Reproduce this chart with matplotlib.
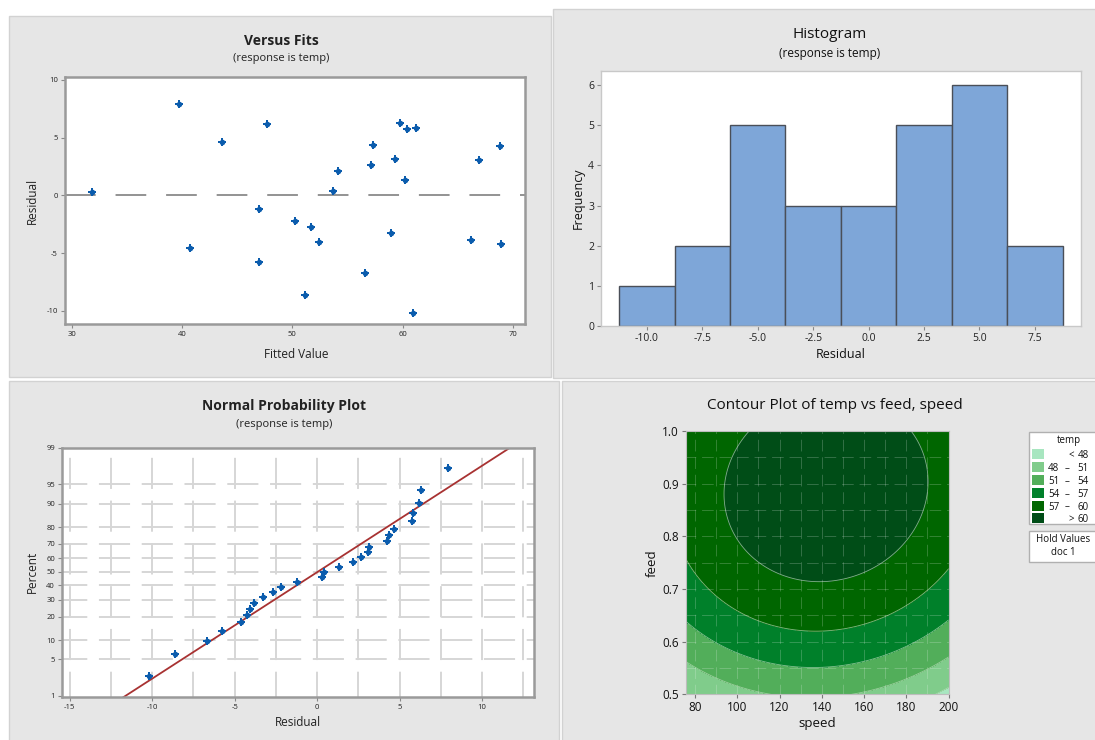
import numpy as np
import matplotlib
matplotlib.use("Agg")
import matplotlib.pyplot as plt
from matplotlib.patches import Rectangle
from statistics import NormalDist

plt.rcParams['font.family'] = ['Open Sans', 'DejaVu Sans']
plt.rcParams['axes.unicode_minus'] = False

# ---------------- data ----------------
fitted = [31.8, 39.7, 40.7, 43.6, 47.7, 47.0, 47.0, 50.2, 51.1, 51.7, 52.4, 53.7, 54.1, 56.6,
          57.1, 57.3, 58.9, 59.3, 59.8, 60.2, 60.4, 61.2, 60.9, 66.2, 66.9, 68.8, 68.9]
residuals = [0.3, 7.9, -4.6, 4.65, 6.15, -1.2, -5.8, -2.2, -8.65, -2.7, -4.05, 0.4, 2.15, -6.7,
             2.65, 4.35, -3.3, 3.15, 6.3, 1.3, 5.75, 5.8, -10.2, -3.85, 3.05, 4.25, -4.25]
hist_bin_start, hist_bin_width, hist_nbins = -11.25, 2.5, 8
hist_ticks = [-10.0, -7.5, -5.0, -2.5, 0.0, 2.5, 5.0, 7.5]
fit_xticks = [30, 40, 50, 60, 70]
fit_yticks = [-10, -5, 0, 5, 10]
npp_xticks = [-15, -10, -5, 0, 5, 10]
npp_percents = [1, 5, 10, 20, 30, 40, 50, 60, 70, 80, 90, 95, 99]
# fitted response-surface model for temp (speed, feed), doc held at 1
model_tmax = 62.25
model_speed0 = 142.0
model_feed0 = 0.892
model_a_speed = 0.00097
model_b_feed = 70.9
model_shift = 18.0
contour_levels = [48, 51, 54, 57, 60]
contour_colors = ['#a8e6c0', '#80cc8b', '#52ae5a', '#00802a', '#006600', '#004d17']
legend_labels = [('', '<', '48'), ('48', '–', '51'), ('51', '–', '54'),
                 ('54', '–', '57'), ('57', '–', '60'), ('', '>', '60')]

W, H = 1095, 740
fig = plt.figure(figsize=(W / 100, H / 100), dpi=100)
fig.patch.set_facecolor('white')


def add_ax(x0, y0, x1, y1):
    return fig.add_axes([x0 / W, 1 - y1 / H, (x1 - x0) / W, (y1 - y0) / H])


def panel(x0, y0, x1, y1):
    fig.patches.append(Rectangle((x0 / W, 1 - y1 / H), (x1 - x0) / W, (y1 - y0) / H,
                                 transform=fig.transFigure, facecolor='#e6e6e6',
                                 edgecolor='#d2d2d2', lw=1, zorder=-5))


def ftext(x, y, s, **kw):
    fig.text(x / W, 1 - y / H, s, **kw)


def blobs(ax, x, y):
    ax.scatter(x, y, marker='o', s=16, color=blue, zorder=3, linewidths=0)
    ax.scatter(x, y, marker='P', s=34, color=blue, zorder=3, linewidths=0)


panel(9, 16, 551, 377)
panel(553, 9, 1096, 378)
panel(9, 381, 559, 741)
panel(562, 381, 1096, 741)

dark = '#222222'
blue = '#0b5cad'

# ---------------- Versus Fits ----------------
ax1 = add_ax(65, 77, 525, 324)
ax1.axhline(0, color='#8a8a8a', lw=1.3, ls=(0, (17, 11)), zorder=1)
blobs(ax1, fitted, residuals)
ax1.set_xlim(29.37, 71.1)
ax1.set_ylim(-11.15, 10.26)
ax1.set_xticks(fit_xticks)
ax1.set_yticks(fit_yticks)
for sp in ax1.spines.values():
    sp.set_color('#9a9a9a')
    sp.set_linewidth(1.8)
ax1.tick_params(labelsize=5.5, colors='#888888', labelcolor=dark, length=3, width=0.8, pad=2)
ftext(281, 41, 'Versus Fits', ha='center', va='center', fontsize=10, fontweight='bold', color=dark)
ftext(281, 58, '(response is temp)', ha='center', va='center', fontsize=8, color=dark)
ftext(296, 354, 'Fitted Value', ha='center', va='center', fontsize=8.5, color=dark)
ftext(32, 201, 'Residual', ha='center', va='center', fontsize=8.5, color=dark, rotation=90)

# ---------------- Histogram ----------------
ax2 = add_ax(601, 71, 1081, 326)
edges = hist_bin_start + hist_bin_width * np.arange(hist_nbins + 1)
ax2.hist(residuals, bins=edges, color='#7ea6d8', edgecolor='#4a4f58', linewidth=1, zorder=2)
ax2.set_xlim(-12.07, 9.58)
ax2.set_ylim(0, 6.35)
ax2.set_xticks(hist_ticks)
ax2.set_xticklabels([f'{t:.1f}' for t in hist_ticks])
ax2.set_yticks(range(0, 7))
for sp in ax2.spines.values():
    sp.set_color('#c8c8c8')
    sp.set_linewidth(1)
ax2.tick_params(labelsize=7.5, colors='#888888', labelcolor=dark, length=3, width=0.8, pad=2)
ftext(830, 34, 'Histogram', ha='center', va='center', fontsize=11, color='#111111')
ftext(830, 53, '(response is temp)', ha='center', va='center', fontsize=8.5, color='#111111')
ftext(841, 354, 'Residual', ha='center', va='center', fontsize=9, color='#111111')
ftext(578, 198, 'Frequency', ha='center', va='center', fontsize=9, color='#111111', rotation=90)

# ---------------- Normal Probability Plot ----------------
nd = NormalDist()
ax3 = add_ax(62, 448, 534, 697)
zt = [nd.inv_cdf(p / 100) for p in npp_percents]
ax3.set_xlim(-15.47, 13.14)
ax3.set_ylim(-2.35, nd.inv_cdf(0.99))
for gx in np.arange(-15, 13, 2.5):
    ax3.axvline(gx, color='#d6d6d6', lw=1.4, ls=(3, (16, 6)), zorder=0)
for gz in zt[1:-1]:
    ax3.axhline(gz, color='#d6d6d6', lw=1.4, ls=(3, (16, 6)), zorder=0)
r_sorted = np.sort(residuals)
n = len(r_sorted)
zpts = [nd.inv_cdf((i + 1 - 0.3) / (n + 0.4)) for i in range(n)]
mu, sd = np.mean(residuals), np.std(residuals, ddof=1)
zl = np.array([-2.6, 2.6])
ax3.plot(mu + sd * zl, zl, color='#a83232', lw=1.3, zorder=2)
blobs(ax3, r_sorted, zpts)
ax3.set_xticks(npp_xticks)
ax3.set_yticks(zt)
ax3.set_yticklabels([str(p) for p in npp_percents])
for sp in ax3.spines.values():
    sp.set_color('#9a9a9a')
    sp.set_linewidth(1.8)
ax3.tick_params(labelsize=5.5, colors='#888888', labelcolor=dark, length=3, width=0.8, pad=2)
ftext(284, 406, 'Normal Probability Plot', ha='center', va='center', fontsize=10, fontweight='bold', color=dark)
ftext(284, 425, '(response is temp)', ha='center', va='center', fontsize=8, color=dark)
ftext(298, 722, 'Residual', ha='center', va='center', fontsize=8.5, color=dark)
ftext(32, 572, 'Percent', ha='center', va='center', fontsize=8.5, color=dark, rotation=90)

# ---------------- Contour Plot ----------------
ax4 = add_ax(685.5, 431, 948.6, 694.3)
sp_grid = np.linspace(75.5, 200, 300)
fd_grid = np.linspace(0.5, 1.0, 300)
S, F = np.meshgrid(sp_grid, fd_grid)
center = model_speed0 + model_shift * (F - model_feed0)
T = model_tmax - model_a_speed * (S - center) ** 2 - model_b_feed * (F - model_feed0) ** 2
lv = [-1e9] + contour_levels + [1e9]
ax4.contourf(S, F, T, levels=lv, colors=contour_colors)
ax4.contour(S, F, T, levels=contour_levels, colors='#b9dcb9', linewidths=0.6, alpha=0.7)
for gx in np.arange(80, 201, 10):
    ax4.axvline(gx, color='white', lw=0.7, alpha=0.2, ls=(2, (12, 6)))
for gy in np.arange(0.5, 1.001, 0.05):
    ax4.axhline(gy, color='white', lw=0.7, alpha=0.2, ls=(2, (12, 6)))
ax4.set_xlim(75.5, 200)
ax4.set_ylim(0.5, 1.0)
ax4.set_xticks(range(80, 201, 20))
ax4.set_yticks([0.5, 0.6, 0.7, 0.8, 0.9, 1.0])
ax4.set_yticklabels(['0.5', '0.6', '0.7', '0.8', '0.9', '1.0'])
for sp in ax4.spines.values():
    sp.set_color('#bdbdbd')
    sp.set_linewidth(0.8)
ax4.tick_params(labelsize=8.5, colors='#777777', labelcolor='#111111', length=3, width=0.8, pad=2)
ftext(835, 406, 'Contour Plot of temp vs feed, speed', ha='center', va='center', fontsize=11, color='#111111')
ftext(817, 723, 'speed', ha='center', va='center', fontsize=9.5, color='#111111')
ftext(652, 563, 'feed', ha='center', va='center', fontsize=9.5, color='#111111', rotation=90)

# legend boxes
fig.patches.append(Rectangle((1029 / W, 1 - 524 / H), 70 / W, 92 / H, transform=fig.transFigure,
                             facecolor='white', edgecolor='#b0b0b0', lw=1, zorder=1))
fig.patches.append(Rectangle((1029 / W, 1 - 562 / H), 70 / W, 31 / H, transform=fig.transFigure,
                             facecolor='white', edgecolor='#b0b0b0', lw=1, zorder=1))
ftext(1069, 440, 'temp', ha='center', va='center', fontsize=7, color='#111111')
for i, (lo, sym, hi) in enumerate(legend_labels):
    yc = 454.3 + 12.8 * i
    fig.patches.append(Rectangle((1032 / W, 1 - (yc + 5) / H), 12 / W, 10 / H, transform=fig.transFigure,
                                 facecolor=contour_colors[i], edgecolor='none', zorder=2))
    if lo:
        ftext(1059.5, yc, lo, ha='right', va='center_baseline', fontsize=7, color='#111111')
    ftext(1067.5 if lo else 1071, yc, sym, ha='center', va='center_baseline', fontsize=7, color='#111111')
    ftext(1089, yc, hi, ha='right', va='center_baseline', fontsize=7, color='#111111')
ftext(1063, 540, 'Hold Values', ha='center', va='center', fontsize=7, color='#111111')
ftext(1063, 552.5, 'doc 1', ha='center', va='center', fontsize=7, color='#111111')

fig.savefig('out.png', dpi=100)
